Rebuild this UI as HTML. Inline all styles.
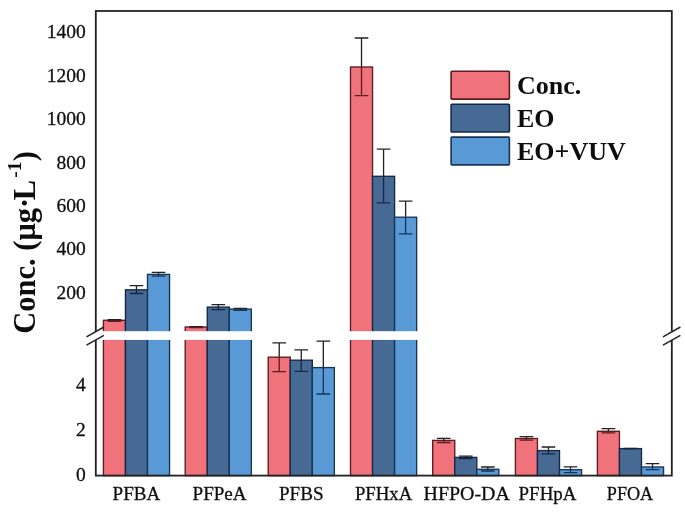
<!DOCTYPE html>
<html lang="en"><head><meta charset="utf-8"><title>Conc. chart</title>
<style>html,body{margin:0;padding:0;background:#fff}body{width:685px;height:519px;overflow:hidden}svg{display:block}</style>
</head><body>
<svg width="685" height="519" viewBox="0 0 685 519">
<rect width="685" height="519" fill="#fff"/>
<defs><filter id="soft" x="0" y="0" width="685" height="519" filterUnits="userSpaceOnUse"><feGaussianBlur stdDeviation="0.55"/></filter></defs>
<g filter="url(#soft)">
<rect width="685" height="519" fill="#fff"/>
<rect x="103.40" y="320.30" width="22.05" height="155.30" fill="#f0737b" stroke="#5e1a20" stroke-width="1.35"/>
<rect x="125.45" y="289.80" width="22.05" height="185.80" fill="#466a95" stroke="#162844" stroke-width="1.35"/>
<rect x="147.50" y="274.40" width="22.05" height="201.20" fill="#5999d6" stroke="#173457" stroke-width="1.35"/>
<rect x="185.20" y="327.00" width="22.05" height="148.60" fill="#f0737b" stroke="#5e1a20" stroke-width="1.35"/>
<rect x="207.25" y="307.10" width="22.05" height="168.50" fill="#466a95" stroke="#162844" stroke-width="1.35"/>
<rect x="229.30" y="309.10" width="22.05" height="166.50" fill="#5999d6" stroke="#173457" stroke-width="1.35"/>
<rect x="268.20" y="357.20" width="22.05" height="118.40" fill="#f0737b" stroke="#5e1a20" stroke-width="1.35"/>
<rect x="290.25" y="360.20" width="22.05" height="115.40" fill="#466a95" stroke="#162844" stroke-width="1.35"/>
<rect x="312.30" y="367.60" width="22.05" height="108.00" fill="#5999d6" stroke="#173457" stroke-width="1.35"/>
<rect x="350.50" y="67.00" width="22.05" height="408.60" fill="#f0737b" stroke="#5e1a20" stroke-width="1.35"/>
<rect x="372.55" y="176.30" width="22.05" height="299.30" fill="#466a95" stroke="#162844" stroke-width="1.35"/>
<rect x="394.60" y="217.20" width="22.05" height="258.40" fill="#5999d6" stroke="#173457" stroke-width="1.35"/>
<rect x="432.70" y="440.40" width="22.05" height="35.20" fill="#f0737b" stroke="#5e1a20" stroke-width="1.35"/>
<rect x="454.75" y="457.40" width="22.05" height="18.20" fill="#466a95" stroke="#162844" stroke-width="1.35"/>
<rect x="476.80" y="469.30" width="22.05" height="6.30" fill="#5999d6" stroke="#173457" stroke-width="1.35"/>
<rect x="515.40" y="438.50" width="22.05" height="37.10" fill="#f0737b" stroke="#5e1a20" stroke-width="1.35"/>
<rect x="537.45" y="450.60" width="22.05" height="25.00" fill="#466a95" stroke="#162844" stroke-width="1.35"/>
<rect x="559.50" y="469.70" width="22.05" height="5.90" fill="#5999d6" stroke="#173457" stroke-width="1.35"/>
<rect x="597.40" y="431.30" width="22.05" height="44.30" fill="#f0737b" stroke="#5e1a20" stroke-width="1.35"/>
<rect x="619.45" y="448.60" width="22.05" height="27.00" fill="#466a95" stroke="#162844" stroke-width="1.35"/>
<rect x="641.50" y="467.00" width="22.05" height="8.60" fill="#5999d6" stroke="#173457" stroke-width="1.35"/>
<path d="M107.63 319.60H121.23M114.43 319.60V320.30" stroke="#222" stroke-width="1.3" fill="none"/>
<path d="M107.63 321.40H121.23M114.43 320.30V321.40" stroke="#5e1a20" stroke-width="1.3" fill="none"/>
<path d="M129.67 285.60H143.28M136.47 285.60V289.80" stroke="#222" stroke-width="1.3" fill="none"/>
<path d="M129.67 293.50H143.28M136.47 289.80V293.50" stroke="#162844" stroke-width="1.3" fill="none"/>
<path d="M151.72 272.40H165.33M158.53 272.40V274.40" stroke="#222" stroke-width="1.3" fill="none"/>
<path d="M151.72 276.10H165.33M158.53 274.40V276.10" stroke="#173457" stroke-width="1.3" fill="none"/>
<path d="M189.42 326.60H203.03M196.22 326.60V327.00" stroke="#222" stroke-width="1.3" fill="none"/>
<path d="M189.42 327.60H203.03M196.22 327.00V327.60" stroke="#5e1a20" stroke-width="1.3" fill="none"/>
<path d="M211.47 304.70H225.08M218.28 304.70V307.10" stroke="#222" stroke-width="1.3" fill="none"/>
<path d="M211.47 309.60H225.08M218.28 307.10V309.60" stroke="#162844" stroke-width="1.3" fill="none"/>
<path d="M233.52 308.40H247.12M240.32 308.40V309.10" stroke="#222" stroke-width="1.3" fill="none"/>
<path d="M233.52 310.40H247.12M240.32 309.10V310.40" stroke="#173457" stroke-width="1.3" fill="none"/>
<path d="M272.42 342.80H286.02M279.22 342.80V357.20" stroke="#222" stroke-width="1.3" fill="none"/>
<path d="M272.42 371.60H286.02M279.22 357.20V371.60" stroke="#5e1a20" stroke-width="1.3" fill="none"/>
<path d="M294.47 349.80H308.07M301.27 349.80V360.20" stroke="#222" stroke-width="1.3" fill="none"/>
<path d="M294.47 371.40H308.07M301.27 360.20V371.40" stroke="#162844" stroke-width="1.3" fill="none"/>
<path d="M316.52 341.10H330.12M323.32 341.10V367.60" stroke="#222" stroke-width="1.3" fill="none"/>
<path d="M316.52 394.00H330.12M323.32 367.60V394.00" stroke="#173457" stroke-width="1.3" fill="none"/>
<path d="M354.72 38.00H368.32M361.52 38.00V67.00" stroke="#222" stroke-width="1.3" fill="none"/>
<path d="M354.72 95.70H368.32M361.52 67.00V95.70" stroke="#5e1a20" stroke-width="1.3" fill="none"/>
<path d="M376.77 149.20H390.38M383.57 149.20V176.30" stroke="#222" stroke-width="1.3" fill="none"/>
<path d="M376.77 202.80H390.38M383.57 176.30V202.80" stroke="#162844" stroke-width="1.3" fill="none"/>
<path d="M398.82 201.10H412.43M405.62 201.10V217.20" stroke="#222" stroke-width="1.3" fill="none"/>
<path d="M398.82 233.90H412.43M405.62 217.20V233.90" stroke="#173457" stroke-width="1.3" fill="none"/>
<path d="M436.92 438.40H450.52M443.72 438.40V440.40" stroke="#222" stroke-width="1.3" fill="none"/>
<path d="M436.92 442.50H450.52M443.72 440.40V442.50" stroke="#5e1a20" stroke-width="1.3" fill="none"/>
<path d="M458.97 456.20H472.57M465.77 456.20V457.40" stroke="#222" stroke-width="1.3" fill="none"/>
<path d="M458.97 458.50H472.57M465.77 457.40V458.50" stroke="#162844" stroke-width="1.3" fill="none"/>
<path d="M481.02 467.00H494.62M487.82 467.00V469.30" stroke="#222" stroke-width="1.3" fill="none"/>
<path d="M481.02 471.00H494.62M487.82 469.30V471.00" stroke="#173457" stroke-width="1.3" fill="none"/>
<path d="M519.62 436.60H533.22M526.42 436.60V438.50" stroke="#222" stroke-width="1.3" fill="none"/>
<path d="M519.62 440.20H533.22M526.42 438.50V440.20" stroke="#5e1a20" stroke-width="1.3" fill="none"/>
<path d="M541.67 447.00H555.27M548.47 447.00V450.60" stroke="#222" stroke-width="1.3" fill="none"/>
<path d="M541.67 453.80H555.27M548.47 450.60V453.80" stroke="#162844" stroke-width="1.3" fill="none"/>
<path d="M563.73 466.80H577.32M570.52 466.80V469.70" stroke="#222" stroke-width="1.3" fill="none"/>
<path d="M563.73 472.60H577.32M570.52 469.70V472.60" stroke="#173457" stroke-width="1.3" fill="none"/>
<path d="M601.62 428.70H615.22M608.42 428.70V431.30" stroke="#222" stroke-width="1.3" fill="none"/>
<path d="M601.62 432.90H615.22M608.42 431.30V432.90" stroke="#5e1a20" stroke-width="1.3" fill="none"/>
<path d="M623.67 448.30H637.27M630.47 448.30V448.60" stroke="#222" stroke-width="1.3" fill="none"/>
<path d="M623.67 448.90H637.27M630.47 448.60V448.90" stroke="#162844" stroke-width="1.3" fill="none"/>
<path d="M645.73 463.60H659.32M652.52 463.60V467.00" stroke="#222" stroke-width="1.3" fill="none"/>
<path d="M645.73 469.70H659.32M652.52 467.00V469.70" stroke="#173457" stroke-width="1.3" fill="none"/>
<rect x="95.8" y="11" width="576" height="464.60" fill="none" stroke="#222" stroke-width="1.8"/>
<rect x="84" y="331.2" width="600" height="8.7" fill="#fff"/>
<path d="M86.50 336.80L103.90 327.00" stroke="#222" stroke-width="1.5" fill="none"/>
<path d="M86.50 345.20L103.90 335.40" stroke="#222" stroke-width="1.5" fill="none"/>
<path d="M663.00 336.80L680.40 327.00" stroke="#222" stroke-width="1.5" fill="none"/>
<path d="M663.00 345.20L680.40 335.40" stroke="#222" stroke-width="1.5" fill="none"/>
<g font-family="'Liberation Serif', serif" font-size="19.5" fill="#111" stroke="#111" stroke-width="0.3" text-anchor="end">
<text x="85.8" y="38.1">1400</text>
<text x="85.8" y="81.6">1200</text>
<text x="85.8" y="125.0">1000</text>
<text x="85.8" y="168.5">800</text>
<text x="85.8" y="212.0">600</text>
<text x="85.8" y="255.4">400</text>
<text x="85.8" y="298.9">200</text>
<text x="85.8" y="391.0">4</text>
<text x="85.8" y="435.9">2</text>
<text x="85.8" y="480.9">0</text>
</g>
<g font-family="'Liberation Serif', serif" font-size="19.5" fill="#111" stroke="#111" stroke-width="0.3" text-anchor="middle">
<text x="136.4" y="500" textLength="47.6" lengthAdjust="spacingAndGlyphs">PFBA</text>
<text x="219.6" y="500" textLength="54.0" lengthAdjust="spacingAndGlyphs">PFPeA</text>
<text x="301.3" y="500" textLength="44.6" lengthAdjust="spacingAndGlyphs">PFBS</text>
<text x="383.6" y="500" textLength="57.4" lengthAdjust="spacingAndGlyphs">PFHxA</text>
<text x="466.7" y="500" textLength="86.3" lengthAdjust="spacingAndGlyphs">HFPO-DA</text>
<text x="547.5" y="500" textLength="57.8" lengthAdjust="spacingAndGlyphs">PFHpA</text>
<text x="630.0" y="500" textLength="46.4" lengthAdjust="spacingAndGlyphs">PFOA</text>
</g>
<text transform="translate(35.0,333.7) rotate(-90)" font-family="'Liberation Serif', serif" font-weight="bold" font-size="30.5" fill="#111">Conc. (μg·<tspan dx="-2.5">L</tspan><tspan font-size="19.7" dx="2.2" dy="-13.6">-1</tspan><tspan dy="13.6">)</tspan></text>
<rect x="451.1" y="71.3" width="58.3" height="27.8" rx="0.8" fill="#f0737b" stroke="#5e1a20" stroke-width="1.6"/>
<text x="517" y="94.3" font-family="'Liberation Serif', serif" font-weight="bold" font-size="26" fill="#111">Conc.</text>
<rect x="451.1" y="104.2" width="58.3" height="27.8" rx="0.8" fill="#466a95" stroke="#162844" stroke-width="1.6"/>
<text x="517" y="127.2" font-family="'Liberation Serif', serif" font-weight="bold" font-size="26" fill="#111">EO</text>
<rect x="451.1" y="137.1" width="58.3" height="27.8" rx="0.8" fill="#5999d6" stroke="#173457" stroke-width="1.6"/>
<text x="517" y="160.1" font-family="'Liberation Serif', serif" font-weight="bold" font-size="26" fill="#111">EO+VUV</text>
</g>
</svg>
</body></html>
